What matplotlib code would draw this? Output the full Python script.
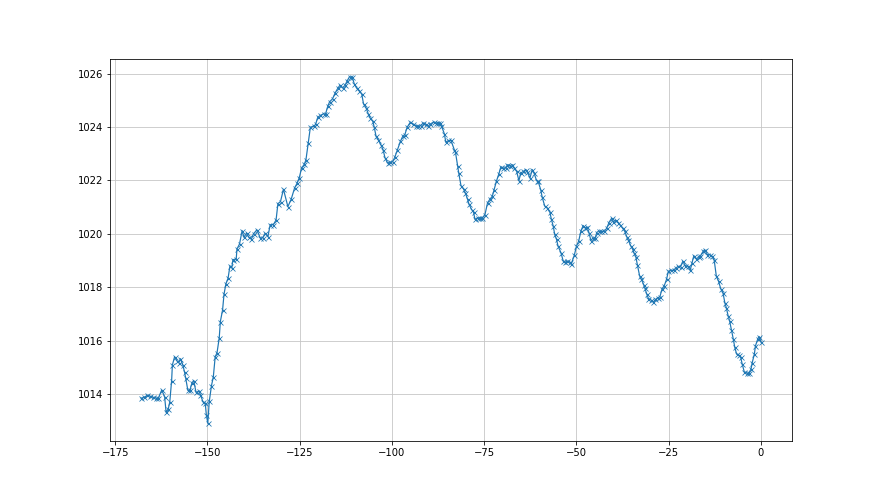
import matplotlib
matplotlib.use("Agg")
import matplotlib.pyplot as plt

# hours relative to now
hours = [
    -168.0, -167.1, -166.3, -165.5, -164.7, -163.9, -163.3, -162.4, -161.6, -161.2,
    -160.6, -160.2, -159.7, -159.5, -158.9, -158.2, -157.8, -157.3, -156.7, -156.2,
    -155.9, -155.3, -154.7, -154.2, -153.7, -153.1, -152.3, -151.9, -151.2, -150.6,
    -150.3, -149.9, -149.5, -148.9, -148.4, -147.9, -147.4, -146.8, -146.5, -145.9,
    -145.5, -145.0, -144.4, -143.9, -143.4, -143.1, -142.2, -142.0, -141.3, -140.6,
    -140.1, -139.4, -138.8, -138.1, -137.5, -136.6, -135.7, -135.0, -134.4, -133.6,
    -133.0, -132.1, -131.4, -130.9, -130.2, -129.4,
    -128.2, -127.3, -126.4, -125.7, -125.1, -124.5, -123.7, -123.3, -122.7, -122.1,
    -121.2, -120.7, -120.1, -119.4, -118.5, -118.0, -117.4, -116.9, -116.1, -115.4,
    -114.7, -114.1, -113.4, -112.7, -112.2, -111.5, -110.8, -110.2, -109.5, -108.8,
    -108.2, -107.7, -107.0, -106.4, -105.9, -105.2, -104.8, -104.3, -103.7, -103.0,
    -102.4, -101.9, -101.2, -100.5, -99.8, -99.2, -98.5, -97.7, -97.1, -96.5,
    -95.9, -95.0, -94.4, -93.5, -92.9, -92.2, -91.5, -90.8, -90.2, -89.6,
    -88.7, -88.1,
    -87.6, -87.0, -86.6, -85.8, -85.4, -84.7, -84.0, -83.1, -82.8, -82.2,
    -81.9, -81.3, -80.6, -80.1, -79.5, -79.1, -78.4, -77.9, -77.5, -76.8,
    -76.1, -75.5, -74.8, -74.1, -73.5, -72.8, -72.3, -71.7, -71.0, -70.5,
    -69.9, -69.2, -68.7, -68.0, -67.4, -66.9, -66.2, -65.6, -65.1, -64.4,
    -63.8, -63.3, -62.6, -62.0, -61.5, -60.8, -60.4, -59.7, -59.3, -58.6,
    -57.9, -57.2, -56.8, -56.3, -55.9, -55.4, -55.0, -54.2, -53.6, -53.0,
    -52.5, -51.8, -51.4, -50.6, -50.0, -49.4, -48.8, -48.2, -47.6, -47.1,
    -46.6, -46.1, -45.5, -44.9,
    -44.5, -43.9, -43.3, -42.5, -41.8, -41.2, -40.5, -40.0, -39.4, -38.7,
    -38.2, -37.5, -36.9, -36.4, -36.0, -35.3, -34.8, -34.4, -33.9, -33.5,
    -32.9, -32.4, -31.8, -31.5, -31.0, -30.5, -29.8, -29.2, -28.6, -28.0,
    -27.4, -26.8, -26.2, -25.6, -25.1, -24.4, -23.6, -23.0, -22.5, -21.8,
    -21.2, -20.5, -19.8, -19.2, -18.7, -18.2, -17.5, -16.9, -16.4, -15.7,
    -15.3, -14.5, -13.9, -13.3, -12.7, -12.1, -11.5, -10.9, -10.3, -9.8,
    -9.4, -8.9, -8.5, -8.0, -7.5, -7.1, -6.6, -6.0, -5.5, -5.1,
    -4.5, -3.9, -3.3, -2.7, -2.4, -1.8, -1.5, -0.9, -0.5, 0.0,
]

# pressure readings (hPa)
pressure = [
    1013.84, 1013.87, 1013.95, 1013.91, 1013.87, 1013.84, 1013.84, 1014.14, 1013.90, 1013.31,
    1013.44, 1013.70, 1014.50, 1015.08, 1015.39, 1015.23, 1015.17, 1015.32, 1015.10, 1014.82,
    1014.60, 1014.13, 1014.16, 1014.41, 1014.50, 1014.06, 1014.10, 1013.97, 1013.70, 1013.66,
    1013.22, 1012.90, 1013.72, 1014.31, 1014.64, 1015.39, 1015.54, 1016.10, 1016.71, 1017.14,
    1017.74, 1018.12, 1018.34, 1018.80, 1018.72, 1019.03, 1019.06, 1019.43, 1019.62, 1020.12,
    1019.87, 1020.03, 1019.87, 1019.81, 1020.00, 1020.15, 1019.85, 1019.85, 1020.02, 1019.90,
    1020.34, 1020.35, 1020.52, 1021.13, 1021.21, 1021.67,
    1021.02, 1021.30, 1021.71, 1021.90, 1022.11, 1022.46, 1022.62, 1022.78, 1023.40, 1024.00,
    1024.03, 1024.10, 1024.37, 1024.44, 1024.50, 1024.49, 1024.78, 1024.95, 1025.06, 1025.28,
    1025.45, 1025.57, 1025.47, 1025.57, 1025.72, 1025.89, 1025.88, 1025.62, 1025.45, 1025.35,
    1025.25, 1024.87, 1024.72, 1024.49, 1024.34, 1024.22, 1024.00, 1023.65, 1023.53, 1023.34,
    1023.15, 1022.86, 1022.65, 1022.69, 1022.71, 1022.88, 1023.15, 1023.47, 1023.65, 1023.72,
    1023.99, 1024.19, 1024.13, 1024.06, 1024.03, 1024.06, 1024.16, 1024.10, 1024.03, 1024.12,
    1024.19, 1024.15,
    1024.17, 1024.15, 1024.05, 1023.75, 1023.43, 1023.50, 1023.50, 1023.15, 1023.07, 1022.53,
    1022.28, 1021.81, 1021.68, 1021.53, 1021.29, 1021.10, 1020.91, 1020.82, 1020.54, 1020.60,
    1020.60, 1020.60, 1020.72, 1021.16, 1021.29, 1021.41, 1021.66, 1021.97, 1022.26, 1022.51,
    1022.47, 1022.47, 1022.59, 1022.56, 1022.59, 1022.47, 1022.34, 1021.99, 1022.28, 1022.34,
    1022.41, 1022.31, 1022.09, 1022.41, 1022.28, 1021.99, 1021.97, 1021.66, 1021.38, 1021.04,
    1020.97, 1020.81, 1020.54, 1020.29, 1019.98, 1019.79, 1019.54, 1019.29, 1018.98, 1018.94,
    1018.98, 1018.94, 1018.88, 1019.19, 1019.54, 1019.73, 1020.10, 1020.31, 1020.22, 1020.25,
    1020.04, 1019.75, 1019.85, 1019.85,
    1020.05, 1020.11, 1020.09, 1020.09, 1020.21, 1020.42, 1020.58, 1020.46, 1020.50, 1020.42,
    1020.34, 1020.21, 1020.09, 1019.90, 1019.78, 1019.55, 1019.43, 1019.28, 1019.13, 1018.84,
    1018.43, 1018.29, 1018.10, 1017.98, 1017.76, 1017.57, 1017.52, 1017.44, 1017.54, 1017.60,
    1017.64, 1017.94, 1018.06, 1018.29, 1018.60, 1018.63, 1018.63, 1018.72, 1018.78, 1018.76,
    1018.97, 1018.81, 1018.78, 1018.63, 1018.91, 1019.18, 1019.06, 1019.13, 1019.18, 1019.34,
    1019.40, 1019.22, 1019.22, 1019.16, 1019.03, 1018.41, 1018.22, 1017.94, 1017.79, 1017.42,
    1017.23, 1016.92, 1016.73, 1016.40, 1016.05, 1015.74, 1015.49, 1015.45, 1015.37, 1015.12,
    1014.81, 1014.78, 1014.78, 1014.93, 1015.16, 1015.49, 1015.80, 1016.05, 1016.15, 1015.95,
]

dpi = 72
fig = plt.figure(figsize=(880 / dpi, 495 / dpi), dpi=dpi)
ax = fig.add_subplot(111)
ax.plot(hours, pressure, marker='x', color='#1f77b4',
        linewidth=1.2, markersize=5, markeredgewidth=0.8)
ax.grid(True, color='#c4c4c4', linewidth=0.8)
ax.set_axisbelow(True)
fig.savefig('out.png', dpi=dpi)
